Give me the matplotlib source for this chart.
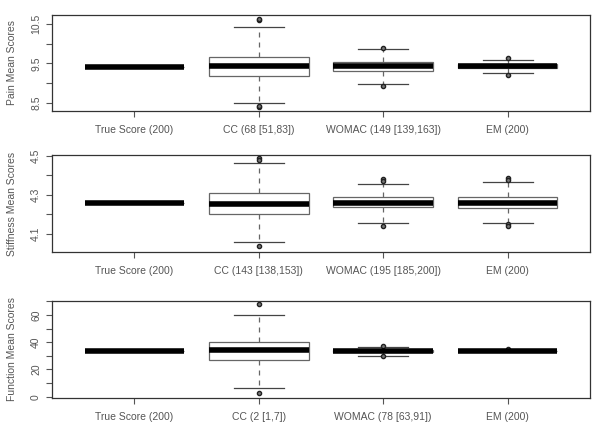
import matplotlib
matplotlib.use("Agg")
import matplotlib.pyplot as plt

plt.rcParams["font.family"] = ["Liberation Sans", "DejaVu Sans"]

# group labels for each panel
pain_labels = ["True Score (200)", "CC (68 [51,83])", "WOMAC (149 [139,163])", "EM (200)"]
stiff_labels = ["True Score (200)", "CC (143 [138,153])", "WOMAC (195 [185,200])", "EM (200)"]
func_labels = ["True Score (200)", "CC (2 [1,7])", "WOMAC (78 [63,91])", "EM (200)"]

# box summaries: median, q1, q3, lower whisker, upper whisker, outliers
pain_med = [9.42, 9.44, 9.43, 9.43]
pain_q1 = [9.42, 9.19, 9.31, 9.38]
pain_q3 = [9.42, 9.66, 9.55, 9.48]
pain_lo = [9.42, 8.51, 8.97, 9.25]
pain_hi = [9.42, 10.43, 9.87, 9.59]
pain_out = [[], [10.60, 10.63, 8.41, 8.43], [9.90, 8.93], [9.65, 9.21]]

stiff_med = [4.259, 4.254, 4.257, 4.258]
stiff_q1 = [4.259, 4.203, 4.235, 4.233]
stiff_q3 = [4.259, 4.310, 4.288, 4.287]
stiff_lo = [4.259, 4.056, 4.153, 4.153]
stiff_hi = [4.259, 4.463, 4.355, 4.364]
stiff_out = [[], [4.487, 4.480, 4.037], [4.380, 4.370, 4.141], [4.384, 4.375, 4.148, 4.140]]

func_med = [33.5, 34.5, 33.5, 33.5]
func_q1 = [33.5, 26.7, 33.0, 33.5]
func_q3 = [33.5, 40.4, 34.0, 33.5]
func_lo = [33.5, 6.1, 30.1, 33.5]
func_hi = [33.5, 60.0, 36.5, 33.5]
func_out = [[], [67.9, 2.4], [37.0, 29.7], [35.0]]

pain_ticks = [8.5, 9.0, 9.5, 10.0, 10.5]
stiff_ticks = [4.1, 4.2, 4.3, 4.4, 4.5]
func_ticks = [0, 10, 20, 30, 40, 50, 60, 70]

panels = [
    ("Pain Mean Scores", pain_labels, pain_med, pain_q1, pain_q3, pain_lo, pain_hi, pain_out,
     pain_ticks, (8.30, 10.73), [0.087, 0.739, 0.896, 0.226]),
    ("Stiffness Mean Scores", stiff_labels, stiff_med, stiff_q1, stiff_q3, stiff_lo, stiff_hi, stiff_out,
     stiff_ticks, (4.006, 4.503), [0.087, 0.407, 0.896, 0.228]),
    ("Function Mean Scores", func_labels, func_med, func_q1, func_q3, func_lo, func_hi, func_out,
     func_ticks, (-0.8, 70.3), [0.087, 0.064, 0.896, 0.228]),
]

fig = plt.figure(figsize=(6, 4.25), dpi=100)
grey = "#555555"

for (ylab, labels, med, q1, q3, lo, hi, out, ticks, ylim, rect) in panels:
    ax = fig.add_axes(rect)
    stats = []
    for i in range(len(labels)):
        stats.append(dict(med=med[i], q1=q1[i], q3=q3[i], whislo=lo[i], whishi=hi[i],
                          fliers=out[i], label=labels[i]))
    ax.bxp(stats, positions=[1, 2, 3, 4], widths=0.8, patch_artist=True,
           boxprops=dict(facecolor="white", edgecolor="#666666", linewidth=0.9),
           medianprops=dict(color="black", linewidth=4, solid_capstyle="butt"),
           whiskerprops=dict(color="#666666", linewidth=0.9, linestyle=(0, (4, 4))),
           capprops=dict(color="#444444", linewidth=0.9),
           capwidths=0.4,
           flierprops=dict(marker="o", markersize=3, markerfacecolor="#777777",
                           markeredgecolor="#222222", markeredgewidth=1.0))
    ax.set_xlim(0.34, 4.66)
    ax.set_ylim(*ylim)
    ax.set_yticks(ticks)
    ax.set_yticklabels([("%g" % t) if k % 2 == 0 else "" for k, t in enumerate(ticks)],
                       rotation=90, va="center", fontsize=7.5, color=grey)
    ax.tick_params(axis="x", labelsize=7.5, colors=grey, length=4, pad=6)
    ax.tick_params(axis="y", length=4, colors=grey, pad=4)
    ax.set_ylabel(ylab, fontsize=7.5, color=grey, labelpad=10)
    for s in ax.spines.values():
        s.set_color("#333333")
        s.set_linewidth(0.9)

fig.savefig("out.png", dpi=100)
